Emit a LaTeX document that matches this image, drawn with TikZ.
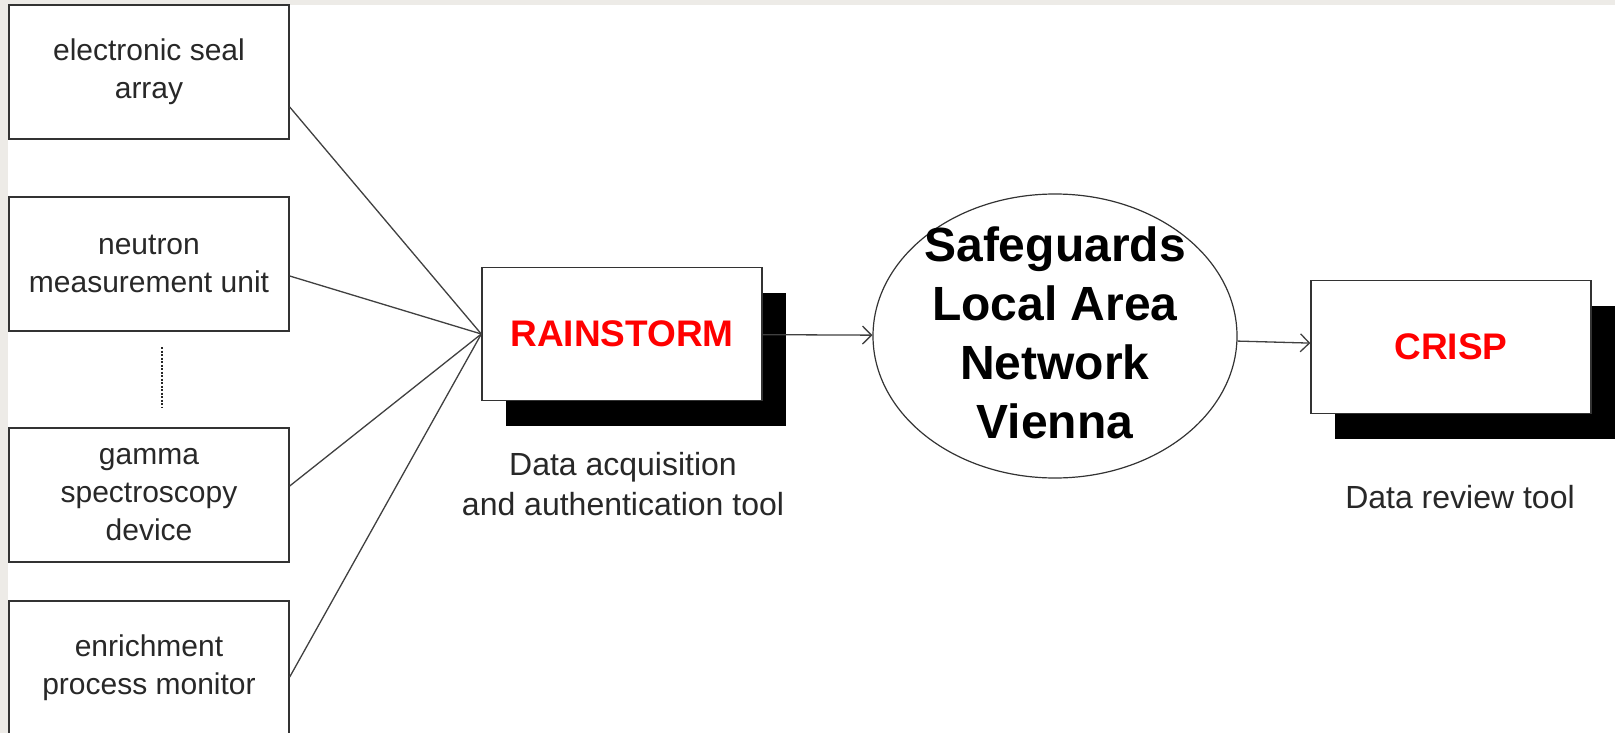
\documentclass[tikz,border=0pt]{standalone}
\usepackage{fontspec}
\setmainfont{Liberation Sans}
\usetikzlibrary{shapes.geometric,shadows,arrows.meta}

\definecolor{stripgray}{RGB}{237,235,231}
\definecolor{inkgray}{RGB}{40,40,40}

\begin{document}
\begin{tikzpicture}[x=1pt,y=-1pt,
    device/.style={draw=black!80, line width=1.4pt, fill=white, minimum width=280pt, minimum height=134pt, inner sep=0pt, align=center, text=inkgray, font=\fontsize{30}{38}\selectfont},
    tool/.style={draw=black!80, line width=1.4pt, fill=white, minimum width=280pt, minimum height=133pt, inner sep=0pt, text=red, font=\fontsize{37}{44}\selectfont\bfseries, drop shadow={shadow xshift=24pt, shadow yshift=-25pt, fill=black, opacity=1}},
    caption/.style={align=center, text=inkgray, inner sep=0pt, font=\fontsize{32}{40}\selectfont},
    link/.style={draw=black!75, line width=1.3pt},
    feed/.style={link, -{Straight Barb[length=9pt,width=18pt]}}
]

    % Fix the page size and paint the background with the grey strips
    \useasboundingbox (0,0) rectangle (1615,733);
    \fill[white] (0,0) rectangle (1615,733);
    \fill[stripgray] (0,0) rectangle (1615,5);
    \fill[stripgray] (0,0) rectangle (8,733);

    % The measuring devices on the left
    \node[device] (esa) at (149,72) {electronic seal\\array};
    \node[device] (nmu) at (149,264) {neutron\\measurement unit};
    \node[device] (gsd) at (149,495) {gamma\\spectroscopy\\device};
    \node[device] (epm) at (149,668) {enrichment\\process monitor};

    % Dotted line for the devices left out
    \draw[black!85, line width=1.8pt, dash pattern=on 2pt off 1.5pt] (162,347) -- (162,407);

    % The two tools with their shadows
    \node[tool] (rain) at (622,334) {RAINSTORM};
    \node[tool] (crisp) at (1451,347) {CRISP};

    % The network in the middle
    \node[ellipse, draw=black!80, line width=1.2pt, fill=white, minimum width=364pt, minimum height=284pt, inner sep=0pt] (slan) at (1055,336) {};
    \node[align=center, inner sep=0pt, font=\fontsize{48}{59}\selectfont\bfseries] (slantext) at ([yshift=3pt]slan.center) {Safeguards\\Local Area\\Network\\Vienna};

    % Captions under the tools
    \node[caption, anchor=north] (acqcap) at (623,452) {Data acquisition\\and authentication tool};
    \node[caption, anchor=base] (revcap) at (1460,508) {Data review tool};

    % Lines from the devices to RAINSTORM
    \draw[link] ([yshift=-35pt]esa.east) -- (rain.west);
    \draw[link] ([yshift=-12pt]nmu.east) -- (rain.west);
    \draw[link] ([yshift=9pt]gsd.east) -- (rain.west);
    \draw[link] ([yshift=-9pt]epm.east) -- (rain.west);

    % Arrows along the chain
    \draw[feed] (rain) -- (slan);
    \draw[feed] (slan) -- (crisp);

\end{tikzpicture}
\end{document}
